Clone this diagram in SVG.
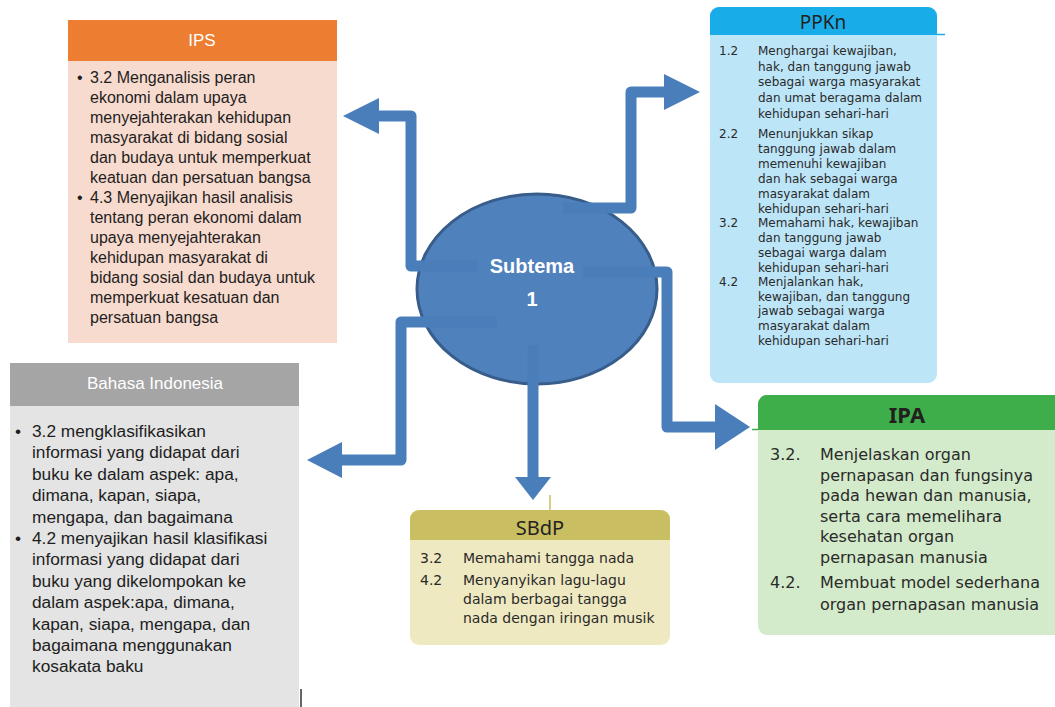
<svg xmlns="http://www.w3.org/2000/svg" width="1055" height="707" viewBox="0 0 1055 707">
<defs>
<style>
.calib{font-family:"Liberation Sans",Arial,sans-serif;fill:#1e1e1e}
.hdrw{font-family:"Liberation Sans",Arial,sans-serif;fill:#ffffff;font-size:17px;text-anchor:middle}
.book{font-family:"DejaVu Sans","Noto Sans",sans-serif;fill:#2a2a2a}
.ttl{font-family:"Noto Sans","DejaVu Sans",sans-serif;fill:#231f20;text-anchor:middle}
.arrow{fill:none;stroke:#4a7ebb;stroke-width:11;stroke-linejoin:round}
.head{fill:#4a7ebb}
</style>
</defs>
<rect width="1055" height="707" fill="#ffffff"/>

<g id="ips">
<rect x="68" y="61" width="269" height="282" fill="#f8dbcf"/>
<rect x="68" y="20" width="269" height="41" fill="#ed7d31"/>
<text class="hdrw" x="202" y="46">IPS</text>
<g class="calib" font-size="16">
<text x="77" y="83">•</text>
<text x="90" y="83">3.2 Menganalisis peran</text>
<text x="90" y="103">ekonomi dalam upaya</text>
<text x="90" y="123">menyejahterakan kehidupan</text>
<text x="90" y="143">masyarakat di bidang sosial</text>
<text x="90" y="163">dan budaya untuk memperkuat</text>
<text x="90" y="183">keatuan dan persatuan bangsa</text>
<text x="77" y="203">•</text>
<text x="90" y="203">4.3 Menyajikan hasil analisis</text>
<text x="90" y="223">tentang peran ekonomi dalam</text>
<text x="90" y="243">upaya menyejahterakan</text>
<text x="90" y="263">kehidupan masyarakat di</text>
<text x="90" y="283">bidang sosial dan budaya untuk</text>
<text x="90" y="303">memperkuat kesatuan dan</text>
<text x="90" y="323">persatuan bangsa</text>
</g>
</g>

<g id="bahasa-indonesia">
<rect x="10" y="406" width="289" height="301" fill="#e4e4e4"/>
<rect x="10" y="363" width="289" height="43" fill="#a5a5a5"/>
<text class="hdrw" x="155" y="389">Bahasa Indonesia</text>
<g class="calib" font-size="17.3">
<text x="15" y="437">•</text>
<text x="32" y="437">3.2 mengklasifikasikan</text>
<text x="32" y="458.4">informasi yang didapat dari</text>
<text x="32" y="479.8">buku ke dalam aspek: apa,</text>
<text x="32" y="501.2">dimana, kapan, siapa,</text>
<text x="32" y="522.6">mengapa, dan bagaimana</text>
<text x="15" y="544">•</text>
<text x="32" y="544">4.2 menyajikan hasil klasifikasi</text>
<text x="32" y="565.4">informasi yang didapat dari</text>
<text x="32" y="586.8">buku yang dikelompokan ke</text>
<text x="32" y="608.2">dalam aspek:apa, dimana,</text>
<text x="32" y="629.6">kapan, siapa, mengapa, dan</text>
<text x="32" y="651">bagaimana menggunakan</text>
<text x="32" y="672.4">kosakata baku</text>
</g>
<line x1="301" y1="689" x2="301" y2="707" stroke="#333" stroke-width="1.5"/>
</g>

<g id="ppkn">
<rect x="710" y="7" width="227" height="376" rx="9" fill="#bde5f8"/>
<path d="M710,35 V16 a9,9 0 0 1 9,-9 H928 a9,9 0 0 1 9,9 V35 Z" fill="#18ade9"/>
<line x1="937" y1="34.5" x2="945" y2="34.5" stroke="#18ade9" stroke-width="1.5"/>
<text class="ttl" x="823" y="29" font-size="19">PPKn</text>
<g class="book" font-size="12">
<text x="719" y="55">1.2</text>
<text x="758" y="55">Menghargai kewajiban,</text>
<text x="758" y="70.5">hak, dan tanggung jawab</text>
<text x="758" y="86">sebagai warga masyarakat</text>
<text x="758" y="102">dan umat beragama dalam</text>
<text x="758" y="117.5">kehidupan sehari-hari</text>
<text x="719" y="138">2.2</text>
<text x="758" y="138">Menunjukkan sikap</text>
<text x="758" y="153">tanggung jawab dalam</text>
<text x="758" y="168">memenuhi kewajiban</text>
<text x="758" y="183">dan hak sebagai warga</text>
<text x="758" y="197.5">masyarakat dalam</text>
<text x="758" y="212.5">kehidupan sehari-hari</text>
<text x="719" y="227">3.2</text>
<text x="758" y="227">Memahami hak, kewajiban</text>
<text x="758" y="242">dan tanggung jawab</text>
<text x="758" y="257">sebagai warga dalam</text>
<text x="758" y="271.5">kehidupan sehari-hari</text>
<text x="719" y="286">4.2</text>
<text x="758" y="286">Menjalankan hak,</text>
<text x="758" y="300.5">kewajiban, dan tanggung</text>
<text x="758" y="315">jawab sebagai warga</text>
<text x="758" y="330">masyarakat dalam</text>
<text x="758" y="344.5">kehidupan sehari-hari</text>
</g>
</g>

<g id="ipa">
<rect x="758" y="395" width="305" height="240" rx="9" fill="#d3eacb"/>
<path d="M758,430 V404 a9,9 0 0 1 9,-9 H1055 V430 Z" fill="#3dae49"/>
<line x1="752" y1="429.5" x2="758" y2="429.5" stroke="#3dae49" stroke-width="1.5"/>
<text class="ttl" x="907" y="423" font-size="22" font-weight="bold">IPA</text>
<g class="book" font-size="16">
<text x="770" y="460">3.2.</text>
<text x="820" y="460">Menjelaskan organ</text>
<text x="820" y="480.6">pernapasan dan fungsinya</text>
<text x="820" y="501.2">pada hewan dan manusia,</text>
<text x="820" y="521.8">serta cara memelihara</text>
<text x="820" y="542.4">kesehatan organ</text>
<text x="820" y="563">pernapasan manusia</text>
<text x="770" y="588">4.2.</text>
<text x="820" y="588">Membuat model sederhana</text>
<text x="820" y="609.5">organ pernapasan manusia</text>
</g>
</g>

<g id="sbdp">
<rect x="410" y="510" width="260" height="135" rx="9" fill="#efe9c1"/>
<path d="M410,540 V519 a9,9 0 0 1 9,-9 H661 a9,9 0 0 1 9,9 V540 Z" fill="#c9bf62"/>
<line x1="550" y1="495" x2="550" y2="512" stroke="#c9bf62" stroke-width="1.5"/>
<text class="ttl" x="540" y="535" font-size="20">SBdP</text>
<g class="book" font-size="14">
<text x="420" y="563">3.2</text>
<text x="463" y="563">Memahami tangga nada</text>
<text x="420" y="585">4.2</text>
<text x="463" y="585">Menyanyikan lagu-lagu</text>
<text x="463" y="604">dalam berbagai tangga</text>
<text x="463" y="623">nada dengan iringan musik</text>
</g>
</g>

<g id="subtema">
<ellipse cx="537" cy="289" rx="120" ry="95" fill="#4f81bd" stroke="#385d8a" stroke-width="3"/>
</g>

<g id="connectors">
<path class="arrow" d="M478,266 H411 V116 H378"/>
<polygon class="head" points="379,98 379,134 343,116"/>
<path class="arrow" d="M563,208 H631 V92 H665"/>
<polygon class="head" points="664,74 664,110 700,92"/>
<path class="arrow" d="M583,272 H667 V427 H716"/>
<polygon class="head" points="715,404 715,450 750,427"/>
<path class="arrow" d="M497,322 H401 V460 H341"/>
<polygon class="head" points="342,442 342,478 307,460"/>
<path class="arrow" d="M533,345 V478"/>
<polygon class="head" points="515,477 551,477 533,500"/>
</g>

<g id="subtema-label" font-family="'Liberation Sans',Arial,sans-serif" font-weight="bold" font-size="20" fill="#ffffff" text-anchor="middle">
<text x="532" y="273">Subtema</text>
<text x="532" y="306">1</text>
</g>
</svg>
